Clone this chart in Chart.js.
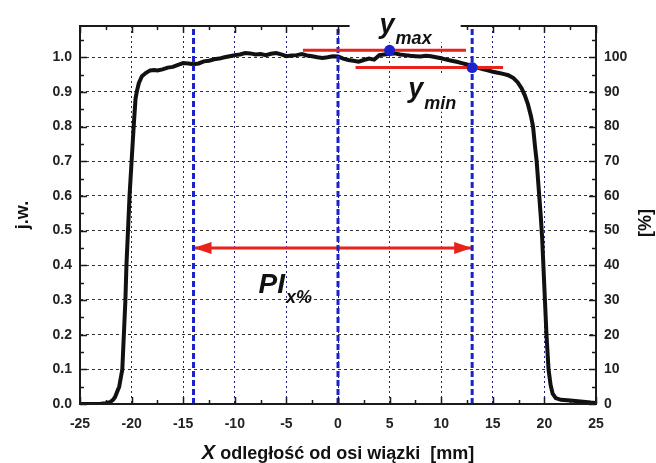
<!DOCTYPE html>
<html>
<head>
<meta charset="utf-8">
<script src="https://cdn.jsdelivr.net/npm/chart.js@4.4.0/dist/chart.umd.min.js"></script>
<style>
  html, body { margin: 0; padding: 0; background: #fff; }
  #wrap { width: 656px; height: 463px; }
</style>
</head>
<body>
<div id="wrap"><canvas id="profil"></canvas></div>
<script>
// profil wiązki: położenie [mm] i względna intensywność [j.w.]
const profilX = [-25, -24, -23, -22.5, -22.1, -21.8, -21.6, -21.4, -21.2, -21.05, -20.9, -20.75, -20.6, -20.5,
  -20.35, -20.2, -20.0, -19.8, -19.62, -19.5, -19.3, -19.0, -18.6, -18.2, -17.8, -17.5, -17.0, -16.5, -16.0,
  -15.5, -15.0, -14.5, -14.0, -13.5, -13.0, -12.5, -12.0, -11.5, -11.0, -10.5, -10.0, -9.5, -9.0, -8.5, -8.0,
  -7.5, -7.0, -6.5, -6.0, -5.5, -5.0, -4.5, -4.0, -3.5, -3.0, -2.5, -2.0, -1.5, -1.0, -0.5, 0, 0.5, 1.0, 1.5,
  2.0, 2.5, 3.0, 3.5, 4.0, 4.5, 5.0, 5.5, 6.0, 6.5, 7.0, 7.5, 8.0, 8.5, 9.0, 9.5, 10.0, 10.5, 11.0, 11.5, 12.0,
  12.5, 13.0, 13.5, 14.0, 14.5, 15.0, 15.5, 16.0, 16.5, 17.0, 17.4, 17.8, 18.1, 18.4, 18.7, 18.9, 19.1, 19.25,
  19.5, 19.65, 19.78, 19.9, 20.05, 20.2, 20.4, 20.6, 20.8, 21.1, 21.6, 22.5, 23.5, 24.5, 25];
const profilY = [0.0, 0.0, 0.001, 0.002, 0.005, 0.012, 0.02, 0.035, 0.05, 0.075, 0.1, 0.2, 0.3, 0.4,
  0.5, 0.6, 0.7, 0.8, 0.88, 0.9, 0.925, 0.945, 0.955, 0.962, 0.963, 0.962, 0.965, 0.97, 0.972,
  0.978, 0.983, 0.982, 0.98, 0.982, 0.988, 0.99, 0.994, 0.996, 1.0, 1.003, 1.006, 1.008, 1.012, 1.011, 1.008,
  1.009, 1.006, 1.01, 1.012, 1.008, 1.003, 1.005, 1.006, 1.009, 1.005, 1.003, 1.0, 0.998, 1.0, 1.003, 1.002, 0.996, 0.992, 0.99,
  0.987, 0.992, 0.996, 0.993, 1.006, 1.008, 1.01, 1.011, 1.008, 1.006, 1.004, 1.003, 1.002, 1.004, 1.003, 1.0, 0.997, 0.993, 0.99, 0.987, 0.983,
  0.979, 0.974, 0.97, 0.966, 0.962, 0.958, 0.955, 0.952, 0.948, 0.94, 0.928, 0.91, 0.89, 0.865, 0.83, 0.8, 0.74, 0.7,
  0.6, 0.54, 0.48, 0.4, 0.3, 0.2, 0.1, 0.055, 0.03, 0.017, 0.012, 0.01, 0.007, 0.004, 0.003];

// granice obszaru PI oraz oś wiązki
const granicaX = [-14, 0, 13];
// maksimum i minimum w obszarze
const yMaxX = 5, yMaxVal = 1.02, yMaxLinia = [-3.4, 12.4];
const yMinX = 13, yMinVal = 0.97, yMinLinia = [1.7, 16.0];
// strzałka szerokości PI
const strzalkaY = 0.45, strzalkaX = [-14, 13];

const osY = { min: 0, max: 1.09, krok: 0.1 };
const osY2 = { min: 0, max: 109, krok: 10 };
const osX = { min: -25, max: 25, krok: 5 };

const rodzina = '"Liberation Sans", Arial, sans-serif';
const czcionkaTick = { family: rodzina, size: 14, weight: 'bold' };
const czerwony = '#e8231c';
const niebieski = '#1b22c9';

const profil = profilX.map((x, i) => ({ x, y: profilY[i] }));

const granice = granicaX.map(gx => ({
  data: [{ x: gx, y: osY.min }, { x: gx, y: osY.max }],
  showLine: true, borderColor: niebieski, borderWidth: 3, borderDash: [6, 3],
  pointRadius: 0, order: 2
}));

const odcinek = (od, y) => [{ x: od[0], y }, { x: od[1], y }];

// grot strzałki rysowany pod zbiorami danych
const groty = {
  id: 'groty',
  beforeDatasetsDraw(chart) {
    const { ctx, scales: { x, y } } = chart;
    const py = y.getPixelForValue(strzalkaY);
    const xl = x.getPixelForValue(strzalkaX[0]);
    const xr = x.getPixelForValue(strzalkaX[1]);
    ctx.save();
    ctx.fillStyle = czerwony;
    ctx.beginPath();
    ctx.moveTo(xl, py); ctx.lineTo(xl + 18, py - 6); ctx.lineTo(xl + 18, py + 6); ctx.closePath();
    ctx.moveTo(xr, py); ctx.lineTo(xr - 18, py - 6); ctx.lineTo(xr - 18, py + 6); ctx.closePath();
    ctx.fill();
    ctx.restore();
  }
};

// tekst z indeksem dolnym, opcjonalnie na białym tle [bok, góra, dół]
function indeks(ctx, glowny, dolny, x, y, r1, r2, dy, tlo) {
  ctx.font = 'italic bold ' + r1 + 'px ' + rodzina;
  const w1 = ctx.measureText(glowny).width;
  ctx.font = 'italic bold ' + r2 + 'px ' + rodzina;
  const w2 = ctx.measureText(dolny).width;
  if (tlo) {
    ctx.fillStyle = '#fff';
    ctx.fillRect(x - tlo[0], y - r1 * 0.8 - tlo[1], w1 + w2 + 2 * tlo[0], r1 * 0.8 + dy + tlo[1] + tlo[2]);
  }
  ctx.fillStyle = '#111';
  ctx.font = 'italic bold ' + r1 + 'px ' + rodzina;
  ctx.fillText(glowny, x, y);
  ctx.font = 'italic bold ' + r2 + 'px ' + rodzina;
  ctx.fillText(dolny, x + w1 + 1, y + dy);
}

// ramka z podziałką do wewnątrz, opisy i tytuły osi
const ramka = {
  id: 'ramka',
  afterDatasetsDraw(chart) {
    const { ctx, chartArea: a, scales: { x, y } } = chart;
    ctx.save();
    ctx.strokeStyle = '#1a1a1a';
    ctx.lineWidth = 2;
    ctx.strokeRect(a.left, a.top, a.right - a.left, a.bottom - a.top);
    ctx.lineWidth = 1.5;
    ctx.beginPath();
    for (let v = osX.min; v <= osX.max; v += osX.krok / 2) {
      const px = Math.round(x.getPixelForValue(v)) + 0.5;
      const d = (v % osX.krok === 0) ? 7 : 4;
      ctx.moveTo(px, a.bottom); ctx.lineTo(px, a.bottom - d);
      ctx.moveTo(px, a.top); ctx.lineTo(px, a.top + d);
    }
    for (let k = 0; k * osY.krok / 2 <= osY.max + 1e-9; k++) {
      const py = Math.round(y.getPixelForValue(k * osY.krok / 2)) + 0.5;
      const d = (k % 2 === 0) ? 7 : 4;
      ctx.moveTo(a.left, py); ctx.lineTo(a.left + d, py);
      ctx.moveTo(a.right, py); ctx.lineTo(a.right - d, py);
    }
    ctx.stroke();

    ctx.textBaseline = 'alphabetic';
    ctx.textAlign = 'left';
    const mx = x.getPixelForValue(yMaxX), my = y.getPixelForValue(yMaxVal);
    indeks(ctx, 'y', 'max', mx - 10, my - 17, 27, 18, 11, [30, 30, -2]);
    const nx = x.getPixelForValue(yMinX), ny = y.getPixelForValue(yMinVal);
    indeks(ctx, 'y', 'min', nx - 64, ny + 29, 27, 18, 12, [4, 2, 3]);
    const sx = x.getPixelForValue(strzalkaX[0]), sy = y.getPixelForValue(strzalkaY);
    indeks(ctx, 'PI', 'x%', sx + 65, sy + 45, 28, 18, 10, null);

    // tytuł osi X
    ctx.fillStyle = '#111';
    ctx.font = 'italic bold 20px ' + rodzina;
    const tX = 'X';
    const reszta = ' odległość od osi wiązki  [mm]';
    const wX = ctx.measureText(tX).width;
    ctx.font = 'bold 18px ' + rodzina;
    const wR = ctx.measureText(reszta).width;
    const x0 = (a.left + a.right) / 2 - (wX + wR) / 2;
    const by = chart.height - 4;
    ctx.font = 'italic bold 20px ' + rodzina;
    ctx.fillText(tX, x0, by);
    ctx.font = 'bold 18px ' + rodzina;
    ctx.fillText(reszta, x0 + wX, by);

    // tytuł prawej osi
    ctx.translate(chart.width - 10, (a.top + a.bottom) / 2 + 8);
    ctx.rotate(-Math.PI / 2);
    ctx.textAlign = 'center';
    ctx.textBaseline = 'middle';
    ctx.fillText('[%]', 0, 0);
    ctx.restore();
  }
};

new Chart(document.getElementById('profil'), {
  type: 'scatter',
  data: {
    datasets: [
      { data: [{ x: yMaxX, y: yMaxVal }, { x: yMinX, y: yMinVal }], pointRadius: 5.5,
        pointBackgroundColor: niebieski, pointBorderWidth: 0, order: 0 },
      { data: odcinek(yMaxLinia, yMaxVal), showLine: true, borderColor: czerwony, borderWidth: 3, pointRadius: 0, order: 1 },
      { data: odcinek(yMinLinia, yMinVal), showLine: true, borderColor: czerwony, borderWidth: 3, pointRadius: 0, order: 1 },
      ...granice,
      { data: odcinek(strzalkaX, strzalkaY), showLine: true, borderColor: czerwony, borderWidth: 3, pointRadius: 0, order: 3 },
      { data: profil, showLine: true, borderColor: '#111', borderWidth: 4, pointRadius: 0, tension: 0, order: 4 }
    ]
  },
  options: {
    responsive: true,
    maintainAspectRatio: false,
    animation: false,
    layout: { padding: { top: 26, left: 0, right: 0, bottom: 0 } },
    plugins: { legend: { display: false }, tooltip: { enabled: false } },
    scales: {
      x: {
        type: 'linear', min: osX.min, max: osX.max,
        ticks: { stepSize: osX.krok, padding: 12, font: czcionkaTick, color: '#222', maxRotation: 0, includeBounds: false },
        grid: { color: '#20208a', lineWidth: 1, drawTicks: false },
        border: { display: false, dash: [2, 3] },
        afterFit: s => { s.height = 59; }
      },
      y: {
        position: 'left', min: osY.min, max: osY.max,
        ticks: { stepSize: osY.krok, padding: 8, font: czcionkaTick, color: '#222', includeBounds: false,
          callback: v => v.toFixed(1) },
        grid: { color: '#333', lineWidth: 1, drawTicks: false },
        border: { display: false, dash: [3, 3] },
        title: { display: true, text: 'j.w.', color: '#111', font: { family: rodzina, size: 18, weight: 'bold' },
          padding: { top: 12, bottom: 0 } },
        afterFit: s => { s.width = 80; }
      },
      y2: {
        position: 'right', min: osY2.min, max: osY2.max,
        ticks: { stepSize: osY2.krok, padding: 8, font: czcionkaTick, color: '#222', includeBounds: false },
        grid: { display: false, drawTicks: false },
        border: { display: false },
        afterFit: s => { s.width = 60; }
      }
    }
  },
  plugins: [groty, ramka]
});
</script>
</body>
</html>
